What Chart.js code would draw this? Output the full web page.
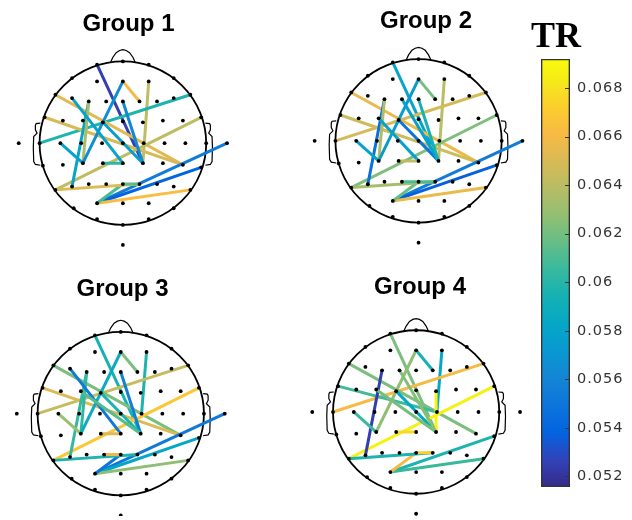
<!DOCTYPE html>
<html><head><meta charset="utf-8">
<script src="https://cdn.jsdelivr.net/npm/chart.js@4.4.1/dist/chart.umd.min.js"></script>
<style>
html,body{margin:0;padding:0;background:#fff;}
#wrap{position:relative;width:632px;height:520px;overflow:hidden;background:#fff;}
.box{position:absolute;}
</style></head><body>
<div id="wrap">
  <div class="box" id="b1" style="left:0px;top:0px;width:257px;height:262px"><canvas id="c1"></canvas></div>
  <div class="box" id="b2" style="left:306px;top:0px;width:240px;height:262px"><canvas id="c2"></canvas></div>
  <div class="box" id="b3" style="left:0px;top:262px;width:245px;height:258px"><canvas id="c3"></canvas></div>
  <div class="box" id="b4" style="left:300px;top:262px;width:240px;height:258px"><canvas id="c4"></canvas></div>
  <div class="box" id="b5" style="left:520px;top:0px;width:112px;height:520px"><canvas id="c5"></canvas></div>
</div>
<script>
// ---------------- DATA ----------------
const GROUP_TITLES = ['Group 1', 'Group 2', 'Group 3', 'Group 4'];

const TR_MIN = 0.05156, TR_MAX = 0.06920;
const CB_TICKS = [0.052, 0.054, 0.056, 0.058, 0.060, 0.062, 0.064, 0.066, 0.068];
const CB_TICK_LABELS = ['0.052', '0.054', '0.056', '0.058', '0.06', '0.062', '0.064', '0.066', '0.068'];

// electrode montage (normalised head units, y up)
const ELECTRODES = ['T9','T7','C5','C3','C1','Cz','C2','C4','C6','T8','T10',
  'FT7','FC5','FC3','FC1','FCz','FC2','FC4','FC6','FT8',
  'TP7','CP5','CP3','CP1','CPz','CP2','CP4','CP6','TP8',
  'F7','F5','F3','F1','Fz','F2','F4','F6','F8',
  'P7','P5','P3','P1','Pz','P2','P4','P6','P8',
  'AF7','AF3','AFz','AF4','AF8',
  'PO7','PO3','POz','PO4','PO8',
  'Fp1','Fpz','Fp2','O1','Oz','O2','Iz'];
const ELEC_X = [-1.25,-1.0,-0.75,-0.5,-0.25,0,0.25,0.5,0.75,1.0,1.25,
  -0.94,-0.72,-0.48,-0.24,0,0.24,0.48,0.72,0.94,
  -0.96,-0.72,-0.48,-0.24,0,0.24,0.48,0.72,0.94,
  -0.81,-0.61,-0.41,-0.2,0,0.2,0.41,0.61,0.81,
  -0.81,-0.61,-0.41,-0.2,0,0.2,0.41,0.61,0.81,
  -0.61,-0.31,0,0.31,0.61,
  -0.59,-0.31,0,0.31,0.61,
  -0.31,0,0.31,-0.31,0,0.31,0];
const ELEC_Y = [0,0,0,0,0,0,0,0,0,0,0,
  0.31,0.27,0.27,0.25,0.26,0.25,0.27,0.27,0.31,
  -0.27,-0.26,-0.24,-0.24,-0.24,-0.24,-0.24,-0.26,-0.29,
  0.58,0.54,0.5,0.5,0.5,0.5,0.5,0.54,0.58,
  -0.56,-0.52,-0.49,-0.49,-0.49,-0.49,-0.49,-0.52,-0.56,
  0.78,0.74,0.74,0.74,0.78,
  -0.78,-0.72,-0.72,-0.72,-0.78,
  0.94,0.98,0.94,-0.91,-0.98,-0.91,-1.22];

// connections per group (TR value of each connection)
const G1_FROM = ['Fp1','AFz','AF4','T7','F7','FT7','P7','PO3','PO3','PO3','PO3','P7','Pz','P5','F3','C5','AFz','F5','CP1','Fz','FC1'];
const G1_TO   = ['CP2','F2','CP2','F8','CP6','CP6','FT8','T10','TP8','P8','Pz','P2','P2','F3','CP3','CP3','CP3','CPz','CPz','CP2','CP2'];
const G1_TR   = [0.05244,0.06589,0.06414,0.05965,0.06531,0.06492,0.06414,0.05536,0.05390,0.06628,0.06092,0.06511,0.06141,0.05809,0.06336,0.05780,0.05653,0.05780,0.06024,0.05614,0.05751];

const G2_FROM = ['Fp1','AFz','AF4','T7','F7','FT7','P7','PO3','PO3','PO3','PO3','P7','P1','P5','CP3','C5','CP3','FC1','F1','Fz','FC3','CP1'];
const G2_TO   = ['CP2','F2','CP2','F8','CP6','CP6','FT8','T10','TP8','P8','Pz','P2','P2','F3','F3','CP3','AFz','CP2','CP2','CP2','CPz','CPz'];
const G2_TR   = [0.05809,0.06199,0.06394,0.06482,0.06560,0.06463,0.06229,0.05536,0.05371,0.06560,0.06170,0.06336,0.06102,0.05468,0.06365,0.05809,0.05731,0.05487,0.05780,0.05946,0.05780,0.06414];

const G3_FROM = ['Fp1','AFz','AF4','T7','F7','FT7','P7','PO3','PO3','PO3','PO3','P7','P1','P5','CP3','C5','CP3','F5','Fz','FC1','CP1','FC3'];
const G3_TO   = ['CP2','F2','C2','F8','CP6','CP6','FT8','T10','TP8','P8','Pz','P2','Pz','F3','F3','CP3','AFz','CPz','CP2','CP2','CPz','CP2'];
const G3_TR   = [0.05946,0.06219,0.05975,0.06433,0.06219,0.06511,0.06687,0.05517,0.05829,0.06268,0.05487,0.05975,0.06560,0.06043,0.06024,0.06297,0.05877,0.05517,0.05565,0.05975,0.06511,0.06121];

const G4_FROM = ['Fp1','AFz','AF4','T7','F7','FT7','P7','PO3','PO3','PO3','P7','Pz','P5','CP3','C5','FC1','FC2','CP1','FC3','F1'];
const G4_TO   = ['CP2','F2','C2','F8','CP6','C2','FT8','TP8','P8','Pz','P2','P2','F3','AFz','CP3','CP2','CP2','CPz','CP2','CP2'];
const G4_TR   = [0.06219,0.05946,0.05829,0.06609,0.06219,0.06073,0.06862,0.05965,0.06053,0.06609,0.05965,0.06726,0.05244,0.06268,0.06053,0.05829,0.06882,0.06765,0.06199,0.06238];

// ---------------- STYLE / LAYOUT ----------------
const PARULA_POS = [0,4,8,12,16,20,24,28,32,36,40,44,48,52,56,60,63].map(i => i / 63);
const PARULA_RGB = [[53,42,135],[50,67,186],[3,99,225],[13,117,220],[20,133,212],[9,152,209],[6,167,198],
  [21,177,180],[56,185,158],[101,190,134],[146,191,115],[183,189,100],[217,186,86],[248,186,68],
  [252,206,46],[245,235,24],[249,251,14]];

const UNIT_X = 86, UNIT_Y = 85;
const HEAD_RX = 1.0, HEAD_RY = 0.98;
const NOSE_X = [-0.15,-0.12,-0.08,-0.04,0,0.04,0.08,0.12,0.15];
const NOSE_Y = [0.965,1.03,1.085,1.11,1.12,1.11,1.085,1.03,0.965];
const EAR_X = [0.99,1.04,1.05,1.05,1.03,1.07,1.075,1.07,1.05,0.99];
const EAR_Y = [0.24,0.235,0.215,0.16,0.12,0.08,-0.05,-0.22,-0.255,-0.265];
const LINE_W = 3;
const TITLE_SIZE = 24, TITLE_LH = TITLE_SIZE * 1.2;

const GEOS = [
  {left:0,   top:0,   width:257, height:262, cx:122.7, cy:145,   titleY:24},
  {left:306, top:0,   width:240, height:262, cx:418.3, cy:142.7, titleY:21},
  {left:0,   top:262, width:245, height:258, cx:120.7, cy:415.7, titleY:289},
  {left:300, top:262, width:240, height:258, cx:416,   cy:414,   titleY:287}
];

Chart.defaults.font.family = "'Liberation Sans', Arial, Helvetica, sans-serif";

function parula(v) {
  let t = (v - TR_MIN) / (TR_MAX - TR_MIN);
  t = Math.max(0, Math.min(1, t));
  let i = 0;
  while (i < PARULA_POS.length - 2 && t > PARULA_POS[i + 1]) i++;
  const r = (t - PARULA_POS[i]) / (PARULA_POS[i + 1] - PARULA_POS[i]);
  const a = PARULA_RGB[i], b = PARULA_RGB[i + 1];
  const c = a.map((x, k) => Math.round(x + (b[k] - x) * r));
  return `rgb(${c[0]},${c[1]},${c[2]})`;
}

function elec(name) {
  const i = ELECTRODES.indexOf(name);
  return {x: ELEC_X[i], y: ELEC_Y[i]};
}

const headPlugin = {
  id: 'headOutline',
  beforeDatasetsDraw(chart) {
    const {ctx} = chart;
    const xs = chart.scales.x, ys = chart.scales.y;
    const px = v => xs.getPixelForValue(v), py = v => ys.getPixelForValue(v);
    ctx.save();
    ctx.strokeStyle = '#000';
    ctx.lineWidth = 1.8;
    ctx.beginPath();
    ctx.ellipse(px(0), py(0), px(HEAD_RX) - px(0), py(0) - py(HEAD_RY), 0, 0, Math.PI * 2);
    ctx.stroke();
    ctx.lineWidth = 1.2;
    ctx.beginPath();
    NOSE_X.forEach((nx, i) => { const X = px(nx), Y = py(NOSE_Y[i]); i ? ctx.lineTo(X, Y) : ctx.moveTo(X, Y); });
    ctx.stroke();
    [1, -1].forEach(s => {
      ctx.beginPath();
      EAR_X.forEach((ex, i) => { const X = px(s * ex), Y = py(EAR_Y[i]); i ? ctx.lineTo(X, Y) : ctx.moveTo(X, Y); });
      ctx.stroke();
    });
    ctx.restore();
  }
};

function makeHead(canvasId, title, from, to, vals, g) {
  const padTop = g.titleY - g.top - TITLE_LH / 2;
  const padBottom = 6;
  const areaTop = padTop + TITLE_LH + padBottom;
  const ymax = (g.cy - g.top - areaTop) / UNIT_Y;
  const ymin = -(g.top + g.height - g.cy) / UNIT_Y;
  const xmin = -(g.cx - g.left) / UNIT_X;
  const xmax = (g.left + g.width - g.cx) / UNIT_X;

  const lineSets = from.map((f, i) => ({
    data: [elec(f), elec(to[i])],
    showLine: true,
    borderColor: parula(vals[i]),
    borderWidth: LINE_W,
    pointRadius: 0,
    pointHoverRadius: 0,
    order: -i
  }));
  const dots = {
    data: ELECTRODES.map(elec),
    showLine: false,
    pointRadius: 1.9,
    pointBackgroundColor: '#000',
    pointBorderWidth: 0,
    order: -1000
  };
  return new Chart(document.getElementById(canvasId), {
    type: 'scatter',
    data: {datasets: [dots, ...lineSets]},
    options: {
      responsive: true, maintainAspectRatio: false, animation: false, devicePixelRatio: 1,
      layout: {padding: 0},
      scales: {
        x: {type: 'linear', display: false, min: xmin, max: xmax},
        y: {type: 'linear', display: false, min: ymin, max: ymax}
      },
      plugins: {
        legend: {display: false},
        tooltip: {enabled: false},
        title: {
          display: true, text: title, color: '#000',
          font: {size: TITLE_SIZE, weight: 'bold', lineHeight: 1.2},
          padding: {top: padTop, bottom: padBottom}
        }
      }
    },
    plugins: [headPlugin]
  });
}

makeHead('c1', GROUP_TITLES[0], G1_FROM, G1_TO, G1_TR, GEOS[0]);
makeHead('c2', GROUP_TITLES[1], G2_FROM, G2_TO, G2_TR, GEOS[1]);
makeHead('c3', GROUP_TITLES[2], G3_FROM, G3_TO, G3_TR, GEOS[2]);
makeHead('c4', GROUP_TITLES[3], G4_FROM, G4_TO, G4_TR, GEOS[3]);

// ---------------- COLORBAR ----------------
const cbPlugin = {
  id: 'cbDecor',
  beforeDraw(chart) { chart.ctx.letterSpacing = '1px'; },
  afterDraw(chart) {
    const {ctx, chartArea} = chart;
    const ys = chart.scales.y;
    ctx.save();
    ctx.letterSpacing = '0px';
    // inward tick marks on the right edge
    ctx.strokeStyle = '#333';
    ctx.lineWidth = 1;
    CB_TICKS.forEach(v => {
      const Y = Math.round(ys.getPixelForValue(v)) + 0.5;
      ctx.beginPath();
      ctx.moveTo(chartArea.right, Y);
      ctx.lineTo(chartArea.right - 5, Y);
      ctx.stroke();
    });
    // title
    ctx.font = "bold 36px 'Liberation Serif', 'Times New Roman', serif";
    ctx.fillStyle = '#000';
    ctx.textAlign = 'center';
    ctx.textBaseline = 'alphabetic';
    ctx.fillText('TR', (chartArea.left + chartArea.right) / 2 + 0.5, chartArea.top - 12);
    ctx.restore();
    ctx.letterSpacing = '0px';
  }
};

function cbGradient(context) {
  const chart = context.chart;
  if (!chart.chartArea) return 'rgba(0,0,0,0)';
  const ys = chart.scales.y;
  const grad = chart.ctx.createLinearGradient(0, ys.getPixelForValue(TR_MIN), 0, ys.getPixelForValue(TR_MAX));
  PARULA_POS.forEach((p, i) => grad.addColorStop(p, `rgb(${PARULA_RGB[i].join(',')})`));
  return grad;
}

new Chart(document.getElementById('c5'), {
  type: 'bar',
  data: {
    labels: [''],
    datasets: [
      {data: [[TR_MIN, TR_MAX]], backgroundColor: 'rgba(0,0,0,0)', borderColor: '#333', borderWidth: 1,
       borderSkipped: false, barPercentage: 1, categoryPercentage: 1, grouped: false, order: 0},
      {data: [[TR_MIN, TR_MAX]], backgroundColor: cbGradient, borderWidth: 0,
       barPercentage: 1, categoryPercentage: 1, grouped: false, order: 1}
    ]
  },
  options: {
    responsive: true, maintainAspectRatio: false, animation: false, devicePixelRatio: 1,
    layout: {padding: {left: 21, top: 59, bottom: 33, right: 0}},
    scales: {
      x: {display: false},
      y: {
        position: 'right', min: TR_MIN, max: TR_MAX,
        afterBuildTicks: s => { s.ticks = CB_TICKS.map(v => ({value: v})); },
        afterFit: s => { s.width = 62; },
        ticks: {
          callback: v => CB_TICK_LABELS[CB_TICKS.findIndex(t => Math.abs(t - v) < 1e-9)],
          font: {family: "'DejaVu Sans', Verdana, sans-serif", size: 14.5},
          color: '#333', padding: 3
        },
        grid: {drawOnChartArea: false, drawTicks: true, tickLength: 4, color: 'rgba(0,0,0,0)'},
        border: {display: false}
      }
    },
    plugins: {legend: {display: false}, tooltip: {enabled: false}}
  },
  plugins: [cbPlugin]
});
</script>
</body></html>
